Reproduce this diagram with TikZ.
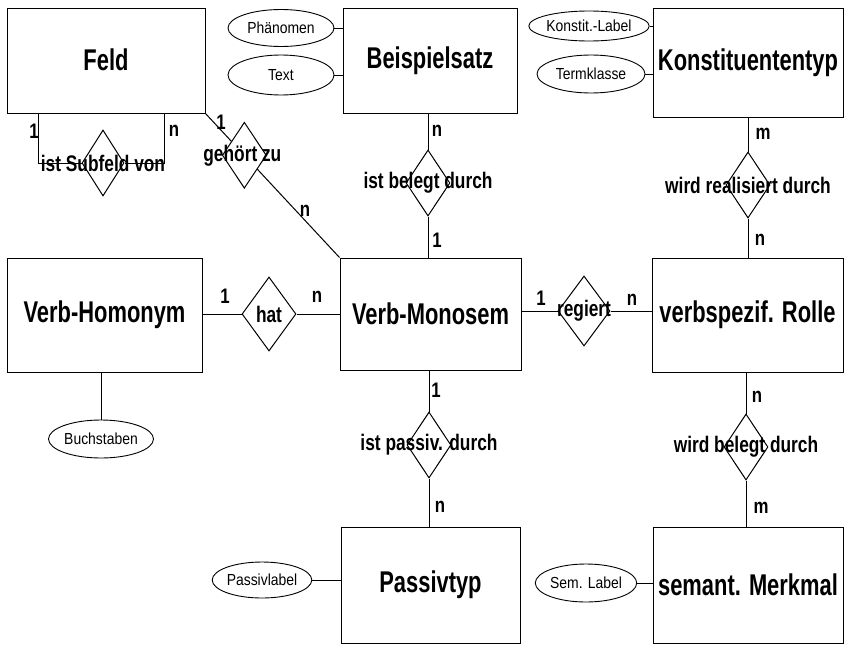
\documentclass[tikz,border=0pt]{standalone}
\usepackage{fontspec}
\setmainfont{Liberation Sans}
\newfontfamily\narT[FakeStretch=0.73]{Liberation Sans}
\newfontfamily\narR[FakeStretch=0.77]{Liberation Sans}
\newfontfamily\narC[FakeStretch=0.8]{Liberation Sans}
\newfontfamily\narA[FakeStretch=0.87]{Liberation Sans}
\usetikzlibrary{shapes.geometric}
\tikzset{
  ent/.style={draw, line width=1pt, rectangle, inner sep=0pt, font=\narT\bfseries\fontsize{30}{33}\selectfont},
  rel/.style={draw, line width=1pt, diamond, inner sep=0pt},
  rtext/.style={inner sep=0pt, font=\narR\bfseries\fontsize{22.5}{25}\selectfont},
  card/.style={inner sep=0pt, font=\narC\bfseries\fontsize{21}{23}\selectfont},
  attr/.style={draw, line width=0.9pt, ellipse, inner sep=0pt, font=\narA\fontsize{16}{18}\selectfont},
  conn/.style={line width=1pt},
}
\begin{document}
\begin{tikzpicture}[x=1pt,y=-1pt]
\useasboundingbox (0,0) rectangle (845,645);
% entities
\node[ent, minimum width=198, minimum height=105] (feld) at (106,60.5) {\raisebox{2pt}{Feld}};
\node[ent, minimum width=174, minimum height=105] (bs) at (430,60.5) {\raisebox{3pt}{Beispielsatz}};
\node[ent, minimum width=190, minimum height=109] (kt) at (748,62.5) {Konstituententyp};
\node[ent, minimum width=195, minimum height=114] (vh) at (104.5,315) {Verb-Homonym};
\node[ent, minimum width=181, minimum height=112] (vm) at (430.5,314) {Verb-Monosem};
\node[ent, minimum width=191, minimum height=114] (vr) at (747.5,315) {verbspezif. Rolle};
\node[ent, minimum width=179, minimum height=116] (pt) at (430.5,585) {Passivtyp};
\node[ent, minimum width=190, minimum height=116] (sm) at (748,585) {semant. Merkmal};
% relationships
\node[rel, minimum width=42, minimum height=66] (sub) at (103,163) {};
\path (feld.south east) -- (vm.north west) coordinate[pos=0.29] (gehc);
\node[rel, minimum width=44, minimum height=66] (geh) at (gehc) {};
\node[rel, minimum width=44, minimum height=66] (r2) at (428,183) {};
\node[rel, minimum width=44, minimum height=66] (r3) at (748,185) {};
\node[rel, minimum width=54, minimum height=74] (hat) at (269,314) {};
\node[rel, minimum width=52, minimum height=70] (reg) at (584,311) {};
\node[rel, minimum width=44, minimum height=66] (r5) at (429,445) {};
\node[rel, minimum width=44, minimum height=66] (r6) at (746,447) {};
% connectors
\coordinate (s1) at ([xshift=32]feld.south west);
\coordinate (s2) at ([xshift=-41]feld.south east);
\draw[conn] (s1) |- (sub.west);
\draw[conn] (s2) |- (sub.east);
\draw[conn] (feld.south east) -- (geh);
\draw[conn] (geh) -- (vm.north west);
\draw[conn] (r2.north) -- (r2.north |- bs.south);
\draw[conn] (r2.south) -- (r2.south |- vm.north);
\draw[conn] (r3.north) -- (r3.north |- kt.south);
\draw[conn] (r3.south) -- (r3.south |- vr.north);
\draw[conn] (hat.west) -- (hat.west -| vh.east);
\draw[conn] (hat.east) -- (hat.east -| vm.west);
\draw[conn] (reg.west) -- (reg.west -| vm.east);
\draw[conn] (reg.east) -- (reg.east -| vr.west);
\draw[conn] (r5.north) -- (r5.north |- vm.south);
\draw[conn] (r5.south) -- (r5.south |- pt.north);
\draw[conn] (r6.north) -- (r6.north |- vr.south);
\draw[conn] (r6.south) -- (r6.south |- sm.north);
% relationship texts
\node[rtext] (t1) at (sub.center) {ist Subfeld von};
\node[rtext] (t2) at ([xshift=-2pt]geh.center) {gehört zu};
\node[rtext] (t3) at (r2.center) {ist belegt durch};
\node[rtext] (t4) at (r3.center) {wird realisiert durch};
\node[rtext] (t5) at (hat.center) {hat};
\node[rtext] (t6) at (reg.center) {regiert};
\node[rtext] (t7) at (r5.center) {ist passiv. durch};
\node[rtext] (t8) at (r6.center) {wird belegt durch};
% attributes
\node[attr, minimum width=106, minimum height=37] (a1) at (281,28) {Phänomen};
\node[attr, minimum width=106, minimum height=40] (a2) at (281,75) {Text};
\node[attr, minimum width=105, minimum height=30] (a3) at (589,26) {Konstit.-Label};
\node[attr, minimum width=108, minimum height=38] (a4) at (591,74) {Termklasse};
\node[attr, minimum width=105, minimum height=38] (a5) at (101,439) {Buchstaben};
\node[attr, minimum width=92, minimum height=36] (a6) at (262,580) {Passivlabel};
\node[attr, minimum width=96, minimum height=38] (a7) at (586,583) {Sem. Label};
\draw[conn] (a1.east) -- (a1.east -| bs.west);
\draw[conn] (a2.east) -- (a2.east -| bs.west);
\draw[conn] (a3.east) -- (a3.east -| kt.west);
\draw[conn] (a4.east) -- (a4.east -| kt.west);
\draw[conn] (a5.north) -- (a5.north |- vh.south);
\draw[conn] (a6.east) -- (a6.east -| pt.west);
\draw[conn] (a7.east) -- (a7.east -| sm.west);
% cardinalities
\node[card] (c1) at (34,131) {1};
\node[card] (c2) at (174,131) {n};
\node[card] (c3) at (221,122) {1};
\node[card] (c4) at (305,211) {n};
\node[card] (c5) at (437,131) {n};
\node[card] (c6) at (437,240) {1};
\node[card] (c7) at (763,134) {m};
\node[card] (c8) at (760,240) {n};
\node[card] (c9) at (225,296) {1};
\node[card] (c10) at (317,297) {n};
\node[card] (c11) at (541,298) {1};
\node[card] (c12) at (632,300) {n};
\node[card] (c13) at (436,390) {1};
\node[card] (c14) at (440,507) {n};
\node[card] (c15) at (757,397) {n};
\node[card] (c16) at (761,508) {m};
\end{tikzpicture}
\end{document}
